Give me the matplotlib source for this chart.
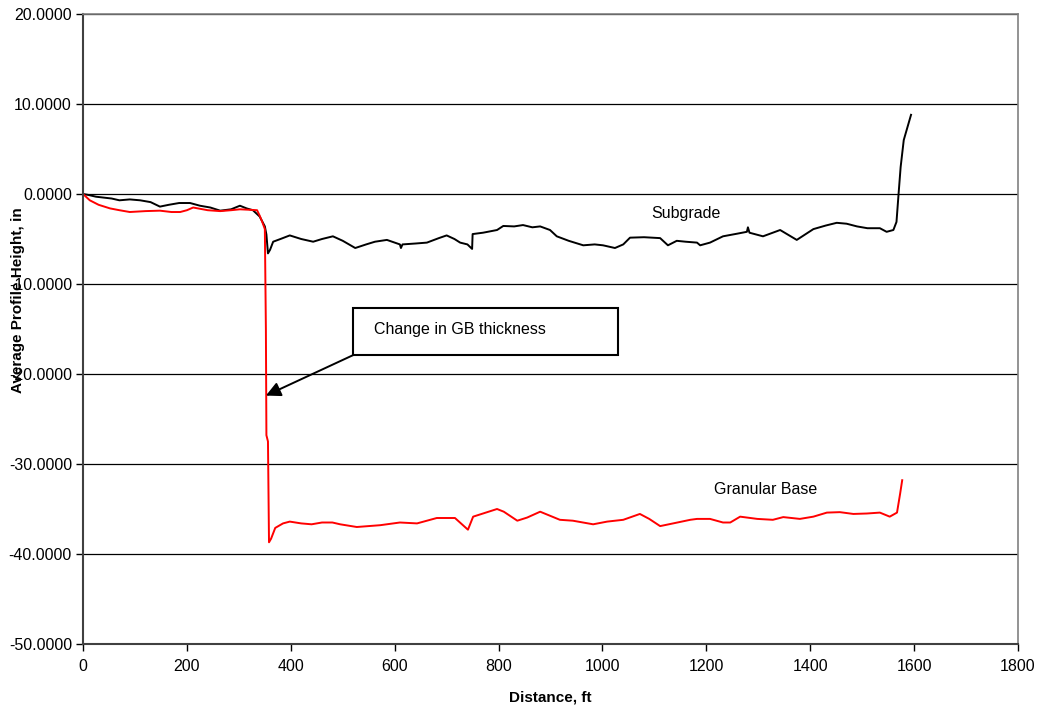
import matplotlib
matplotlib.use('Agg')
from matplotlib import pyplot as plt
from matplotlib.ticker import FormatStrFormatter, MultipleLocator

plt.rcParams['font.family'] = ['Liberation Sans', 'DejaVu Sans']

# subgrade profile (distance ft, height in)
sg_dist = [0, 10, 25, 40, 55, 70, 90, 110, 130, 148, 165, 185, 206, 225, 245,
           264, 285, 302, 315, 327, 340, 350, 353, 356, 360, 366, 380, 398, 420,
           443, 460, 481, 500, 524, 545, 562, 585, 610, 612, 615, 640, 662, 685,
           700, 715, 726, 740, 749, 750, 770, 797, 809, 830, 847, 865, 880, 899,
           912, 935, 963, 985, 1001, 1024, 1040, 1053, 1080, 1111, 1126, 1143,
           1160, 1182, 1188, 1207, 1232, 1260, 1278, 1280, 1283, 1309, 1342,
           1374, 1406, 1430, 1451, 1470, 1490, 1510, 1534, 1547, 1560, 1566,
           1570, 1574, 1580, 1594]
sg_height = [0.0, -0.1, -0.3, -0.4, -0.5, -0.7, -0.6, -0.7, -0.9, -1.4, -1.2,
             -1.0, -1.0, -1.3, -1.5, -1.85, -1.7, -1.3, -1.6, -1.8, -2.5, -3.6,
             -4.5, -6.6, -6.2, -5.3, -5.0, -4.6, -5.0, -5.3, -5.0, -4.7, -5.2,
             -6.0, -5.6, -5.3, -5.1, -5.6, -6.0, -5.6, -5.5, -5.4, -4.9, -4.6,
             -5.0, -5.4, -5.6, -6.1, -4.45, -4.3, -4.0, -3.55, -3.6, -3.45,
             -3.7, -3.6, -4.0, -4.7, -5.2, -5.7, -5.6, -5.7, -6.0, -5.6, -4.85,
             -4.8, -4.9, -5.7, -5.2, -5.3, -5.4, -5.7, -5.4, -4.7, -4.4, -4.2,
             -3.7, -4.3, -4.7, -4.0, -5.1, -3.9, -3.5, -3.2, -3.3, -3.6, -3.8,
             -3.8, -4.2, -4.0, -3.1, 0.0, 3.0, 6.0, 8.8]

# granular base profile
gb_dist = [0, 13, 30, 52, 70, 90, 120, 148, 170, 187, 200, 212, 240, 264, 285,
           302, 320, 335, 340, 345, 350, 352, 353, 356, 358, 362, 370, 385, 398,
           420, 440, 460, 480, 495, 527, 572, 610, 643, 681, 716, 741, 751, 770,
           797, 810, 836, 855, 880, 918, 943, 982, 1009, 1040, 1072, 1090, 1111,
           1136, 1169, 1182, 1207, 1232, 1246, 1265, 1298, 1328, 1348, 1380,
           1406, 1432, 1457, 1483, 1509, 1534, 1553, 1567, 1573, 1577]
gb_height = [0.0, -0.7, -1.2, -1.6, -1.8, -2.0, -1.9, -1.85, -2.0, -2.0, -1.8,
             -1.5, -1.8, -1.9, -1.8, -1.7, -1.75, -1.8, -2.4, -3.1, -3.9, -15.0,
             -26.8, -27.5, -38.7, -38.3, -37.1, -36.6, -36.4, -36.6, -36.7,
             -36.5, -36.5, -36.7, -37.0, -36.8, -36.5, -36.6, -36.0, -36.0,
             -37.3, -35.85, -35.5, -35.0, -35.3, -36.3, -35.95, -35.3, -36.2,
             -36.3, -36.7, -36.4, -36.2, -35.55, -36.1, -36.9, -36.6, -36.2,
             -36.1, -36.1, -36.5, -36.5, -35.85, -36.1, -36.2, -35.9, -36.1,
             -35.85, -35.4, -35.35, -35.55, -35.5, -35.4, -35.85, -35.4, -33.3,
             -31.8]

fig = plt.figure(figsize=(10.42, 7.08), dpi=100)
ax = fig.add_axes([0.0797, 0.0904, 0.8973, 0.8898])

ax.plot(sg_dist, sg_height, color='black', lw=1.4)
ax.plot(gb_dist, gb_height, color='red', lw=1.4)

ax.set_xlim(0, 1800)
ax.set_ylim(-50, 20)
ax.xaxis.set_major_locator(MultipleLocator(200))
ax.yaxis.set_major_locator(MultipleLocator(10))
ax.yaxis.set_major_formatter(FormatStrFormatter('%.4f'))
ax.tick_params(direction='out', length=5, width=1, labelsize=11.5)
ax.tick_params(axis='x', pad=6)
ax.tick_params(axis='y', pad=3)
ax.grid(axis='y', color='black', lw=0.9)
ax.set_axisbelow(True)

for side in ['left', 'bottom']:
    ax.spines[side].set_color('#404040')
    ax.spines[side].set_linewidth(1.5)
for side in ['top', 'right']:
    ax.spines[side].set_color('#808080')
    ax.spines[side].set_linewidth(1.2)

ax.set_xlabel('Distance, ft', fontsize=11, fontweight='bold', labelpad=12)
fig.text(0.017, 0.576, 'Average Profile Height, in', rotation=90,
         fontsize=11, fontweight='bold', ha='center', va='center')

ax.text(1094, -2.2, 'Subgrade', fontsize=11.5, va='center')
ax.text(1215, -32.8, 'Granular Base', fontsize=11.5, va='center')

# callout box with arrow pointing at the drop
ax.annotate('', xy=(352, -22.4), xytext=(520, -17.9),
            arrowprops=dict(arrowstyle='-|>', color='black', lw=1.4,
                            mutation_scale=22, shrinkA=0, shrinkB=0))
box = plt.Rectangle((520, -17.9), 510, 5.2, fill=True, facecolor='white',
                    edgecolor='black', lw=1.5, zorder=5)
ax.add_patch(box)
ax.text(560, -15.1, 'Change in GB thickness', fontsize=11.5, va='center', zorder=6)

fig.savefig('out.png', dpi=100)
